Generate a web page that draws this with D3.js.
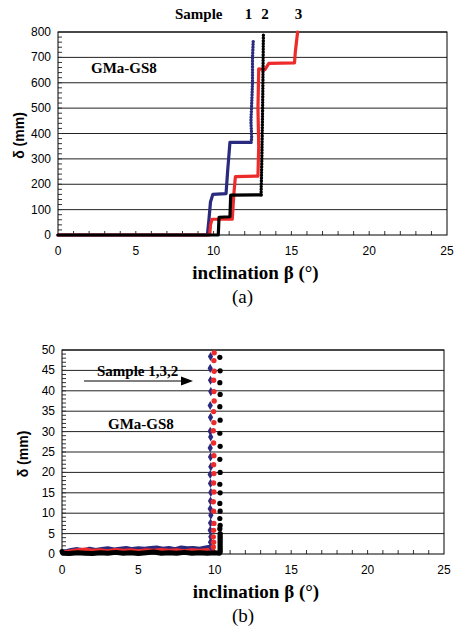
<!DOCTYPE html>
<html>
<head>
<meta charset="utf-8">
<script src="https://cdn.jsdelivr.net/npm/d3@7"></script>
<style>
  body { margin: 0; background: #fff; }
  svg { display: block; }
</style>
</head>
<body>
<svg id="fig" width="459" height="628"></svg>
<script>
// ---- data (a): step curves, [beta, delta mm] ----
const sample1_a = [[0,0],[9.6,0],[9.7,60],[9.8,130],[9.95,160],[10.8,163],[10.9,250],[11.05,365],[12.4,365],[12.45,380],[12.4,450],[12.45,520],[12.5,600],[12.5,700],[12.55,768]];
const sample3_a = [[0,0],[9.75,0],[9.8,40],[9.9,62],[11.2,62],[11.3,160],[11.4,230],[12.85,232],[12.9,350],[12.85,500],[12.9,655],[13.3,652],[13.55,676],[15.2,678],[15.25,720],[15.4,800]];
const sample2_a = [[0,0],[10.3,0],[10.35,70],[11.05,72],[11.1,157],[13.05,158],[13.1,300],[13.15,500],[13.2,790]];

// ---- data (b): near-zero base + separate points up the column ----
const sample1_b_base = [[0,0.5],[0.3,0.7],[0.6,1.0],[1.0,1.2],[1.4,0.9],[1.8,1.3],[2.2,1.0],[2.6,1.2],[3.0,1.4],[3.4,1.1],[3.8,1.3],[4.2,1.5],[4.6,1.2],[5.0,1.4],[5.4,1.3],[5.8,1.5],[6.2,1.6],[6.6,1.3],[7.0,1.5],[7.4,1.2],[7.8,1.6],[8.2,1.4],[8.6,1.5],[9.0,1.3],[9.4,1.6],[9.7,1.8]];
const sample3_b_base = [[0,0.3],[0.5,0.6],[1.0,0.9],[1.5,1.1],[2.0,0.8],[2.5,0.9],[3.0,0.7],[3.5,1.0],[4.0,0.8],[4.5,0.9],[5.0,0.7],[5.5,0.9],[6.0,0.8],[6.5,1.0],[7.0,0.8],[7.5,0.9],[8.0,0.7],[8.5,0.9],[9.0,0.8],[9.5,1.0],[9.9,1.2]];
const sample2_b_base = [[0,0.6],[0.05,0.2],[0.5,0.1],[1.0,0.3],[1.5,0.2],[2.0,0.1],[2.5,0.3],[3.0,0.2],[3.5,0.4],[4.0,0.2],[4.5,0.3],[5.0,0.1],[5.5,0.3],[6.0,0.5],[6.5,0.2],[7.0,0.3],[7.5,0.2],[8.0,0.4],[8.5,0.2],[9.0,0.3],[9.5,0.2],[10.0,0.3],[10.3,0.2]];
const sample1_b_col = [[9.74,1.7],[9.72,2.9],[9.74,4.2],[9.7,5.8],[9.72,7.6],[9.74,9.5],[9.7,11.1],[9.72,13.0],[9.74,15.1],[9.72,17.3],[9.7,19.5],[9.74,21.4],[9.72,23.8],[9.7,26.0],[9.73,28.7],[9.7,30.1],[9.72,33.5],[9.7,36.4],[9.74,39.8],[9.72,42.6],[9.7,45.5],[9.72,48.4]];
const sample3_b_col = [[9.9,1.7],[9.92,2.9],[9.9,4.2],[9.92,5.8],[9.94,7.5],[9.92,10.5],[9.9,12.8],[9.94,15.2],[9.92,17.4],[9.94,19.7],[9.92,21.9],[9.94,24.1],[9.92,27.2],[9.9,30.2],[9.94,32.2],[9.92,34.9],[9.96,37.5],[9.94,39.8],[9.92,42.6],[9.96,44.8],[9.94,47.4],[9.96,49.3]];
const sample2_b_col = [[10.35,0.5],[10.35,1.0],[10.35,1.5],[10.35,2.0],[10.35,2.5],[10.35,3.0],[10.35,3.5],[10.35,4.0],[10.35,4.5],[10.35,5.0],[10.33,6.2],[10.35,7.0],[10.33,8.7],[10.35,10.5],[10.33,12.4],[10.35,15.0],[10.33,17.1],[10.35,20.0],[10.33,23.2],[10.35,26.4],[10.33,29.6],[10.35,32.8],[10.33,36.1],[10.35,39.1],[10.33,42.0],[10.35,44.9],[10.33,48.2]];

const xTicks = [0, 5, 10, 15, 20, 25];
const yTicks_a = [0, 100, 200, 300, 400, 500, 600, 700, 800];
const yTicks_b = [0, 5, 10, 15, 20, 25, 30, 35, 40, 45, 50];

const BLUE = "#2a2a7e", RED = "#ee2b2b", BLACK = "#000";

const svg = d3.select("#fig");

function panel(p) {
  const g = svg.append("g");
  const x = d3.scaleLinear().domain([0, 25]).range([p.left, p.right]);
  const y = d3.scaleLinear().domain([0, p.ymax]).range([p.bottom, p.top]);

  // gridlines
  g.selectAll(".grid").data(p.yTicks.slice(1)).enter().append("line")
    .attr("x1", p.left).attr("x2", p.right)
    .attr("y1", d => y(d)).attr("y2", d => y(d))
    .attr("stroke", "#222").attr("stroke-width", 1);

  // minor ticks, inside the frame
  g.selectAll(".xm").data(d3.range(1, 25)).enter().append("line")
    .attr("x1", d => x(d)).attr("x2", d => x(d))
    .attr("y1", p.bottom).attr("y2", p.bottom - 4)
    .attr("stroke", "#333");
  g.selectAll(".ym").data(d3.range(p.yMinor, p.ymax, p.yMinor)).enter().append("line")
    .attr("x1", p.left).attr("x2", p.left + 4)
    .attr("y1", d => y(d)).attr("y2", d => y(d))
    .attr("stroke", "#333");

  // frame
  g.append("rect").attr("x", p.left).attr("y", p.top)
    .attr("width", p.right - p.left).attr("height", p.bottom - p.top)
    .attr("fill", "none").attr("stroke", "#000").attr("stroke-width", 1);

  // tick labels
  g.selectAll(".xl").data(xTicks).enter().append("text")
    .attr("x", d => x(d)).attr("y", p.bottom + 20)
    .attr("text-anchor", "middle")
    .style("font", "12px 'Liberation Sans', Arial, sans-serif")
    .text(d => d);
  g.selectAll(".yl").data(p.yTicks).enter().append("text")
    .attr("x", p.left - 7).attr("y", d => y(d) + 4)
    .attr("text-anchor", "end")
    .style("font", "12px 'Liberation Sans', Arial, sans-serif")
    .text(d => d);

  // axis titles
  g.append("text").attr("x", (p.left + p.right) / 2 + 3).attr("y", p.bottom + 44)
    .attr("text-anchor", "middle")
    .style("font", "bold 19px 'Liberation Serif', 'Times New Roman', serif")
    .text("inclination β (°)");
  g.append("text")
    .attr("transform", `translate(${p.left - 34},${(p.top + p.bottom) / 2 + 2}) rotate(-90)`)
    .attr("text-anchor", "middle")
    .style("font", "bold 14px 'Liberation Sans', Arial, sans-serif")
    .text("δ (mm)");
  g.append("text").attr("x", (p.left + p.right) / 2 - 10).attr("y", p.bottom + 68)
    .attr("text-anchor", "middle")
    .style("font", "19px 'Liberation Serif', 'Times New Roman', serif")
    .text(p.label);

  return { g, x, y };
}

// ---------- (a) ----------
const A = panel({ left: 58, right: 447, top: 32, bottom: 235, ymax: 800, yTicks: yTicks_a, yMinor: 20, label: "(a)" });
const lineA = d3.line().x(d => A.x(d[0])).y(d => A.y(d[1]));
// the last vertical run of samples 1 and 2 shows as separate dots
[[sample1_a, BLUE, 8], [sample3_a, RED, null], [sample2_a, BLACK, 5]].forEach(([data, c, dotFrom]) => {
  const solid = dotFrom === null ? data : data.slice(0, dotFrom + 1);
  A.g.append("path").attr("d", lineA(solid))
    .attr("fill", "none").attr("stroke", c).attr("stroke-width", 3.2)
    .attr("stroke-linejoin", "round").attr("stroke-linecap", "round");
  if (dotFrom !== null) {
    A.g.append("path").attr("d", lineA(data.slice(dotFrom)))
      .attr("fill", "none").attr("stroke", c).attr("stroke-width", 3.4)
      .attr("stroke-dasharray", "0.1,2.7")
      .attr("stroke-linejoin", "round").attr("stroke-linecap", "round");
  }
});
const serifB = "bold 15px 'Liberation Serif', 'Times New Roman', serif";
A.g.append("text").attr("x", 91).attr("y", 73).style("font", serifB).text("GMa-GS8");
A.g.append("text").attr("x", 175).attr("y", 19).style("font", serifB).text("Sample");
A.g.append("text").attr("x", A.x(12.25)).attr("y", 19).attr("text-anchor", "middle").style("font", serifB).text("1");
A.g.append("text").attr("x", A.x(13.3)).attr("y", 19).attr("text-anchor", "middle").style("font", serifB).text("2");
A.g.append("text").attr("x", A.x(15.45)).attr("y", 19).attr("text-anchor", "middle").style("font", serifB).text("3");

// ---------- (b) ----------
const B = panel({ left: 62, right: 444, top: 350, bottom: 554, ymax: 50, yTicks: yTicks_b, yMinor: 1, label: "(b)" });
const lineB = d3.line().x(d => B.x(d[0])).y(d => B.y(d[1]));
[[sample1_b_base, BLUE, 4], [sample3_b_base, RED, 4], [sample2_b_base, BLACK, 5]].forEach(([data, c, w]) => {
  B.g.append("path").attr("d", lineB(data))
    .attr("fill", "none").attr("stroke", c).attr("stroke-width", w)
    .attr("stroke-linejoin", "round").attr("stroke-linecap", "round");
});
B.g.selectAll(".s1").data(sample1_b_col).enter().append("path")
  .attr("transform", d => `translate(${B.x(d[0])},${B.y(d[1])})`)
  .attr("d", d3.symbol(d3.symbolDiamond, 24)())
  .attr("fill", BLUE);
B.g.selectAll(".s3").data(sample3_b_col).enter().append("circle")
  .attr("cx", d => B.x(d[0])).attr("cy", d => B.y(d[1])).attr("r", 2.7)
  .attr("fill", RED);
B.g.selectAll(".s2").data(sample2_b_col).enter().append("circle")
  .attr("cx", d => B.x(d[0])).attr("cy", d => B.y(d[1])).attr("r", 2.6)
  .attr("fill", BLACK);

B.g.append("text").attr("x", 97).attr("y", 376).style("font", serifB).text("Sample 1,3,2");
B.g.append("text").attr("x", 108).attr("y", 429).style("font", serifB).text("GMa-GS8");
B.g.append("line").attr("x1", 84).attr("x2", 183).attr("y1", 381).attr("y2", 381)
  .attr("stroke", "#000").attr("stroke-width", 1.2);
B.g.append("path").attr("d", "M181,376.5 L193,381 L181,385.5 Z").attr("fill", "#000");
</script>
</body>
</html>
